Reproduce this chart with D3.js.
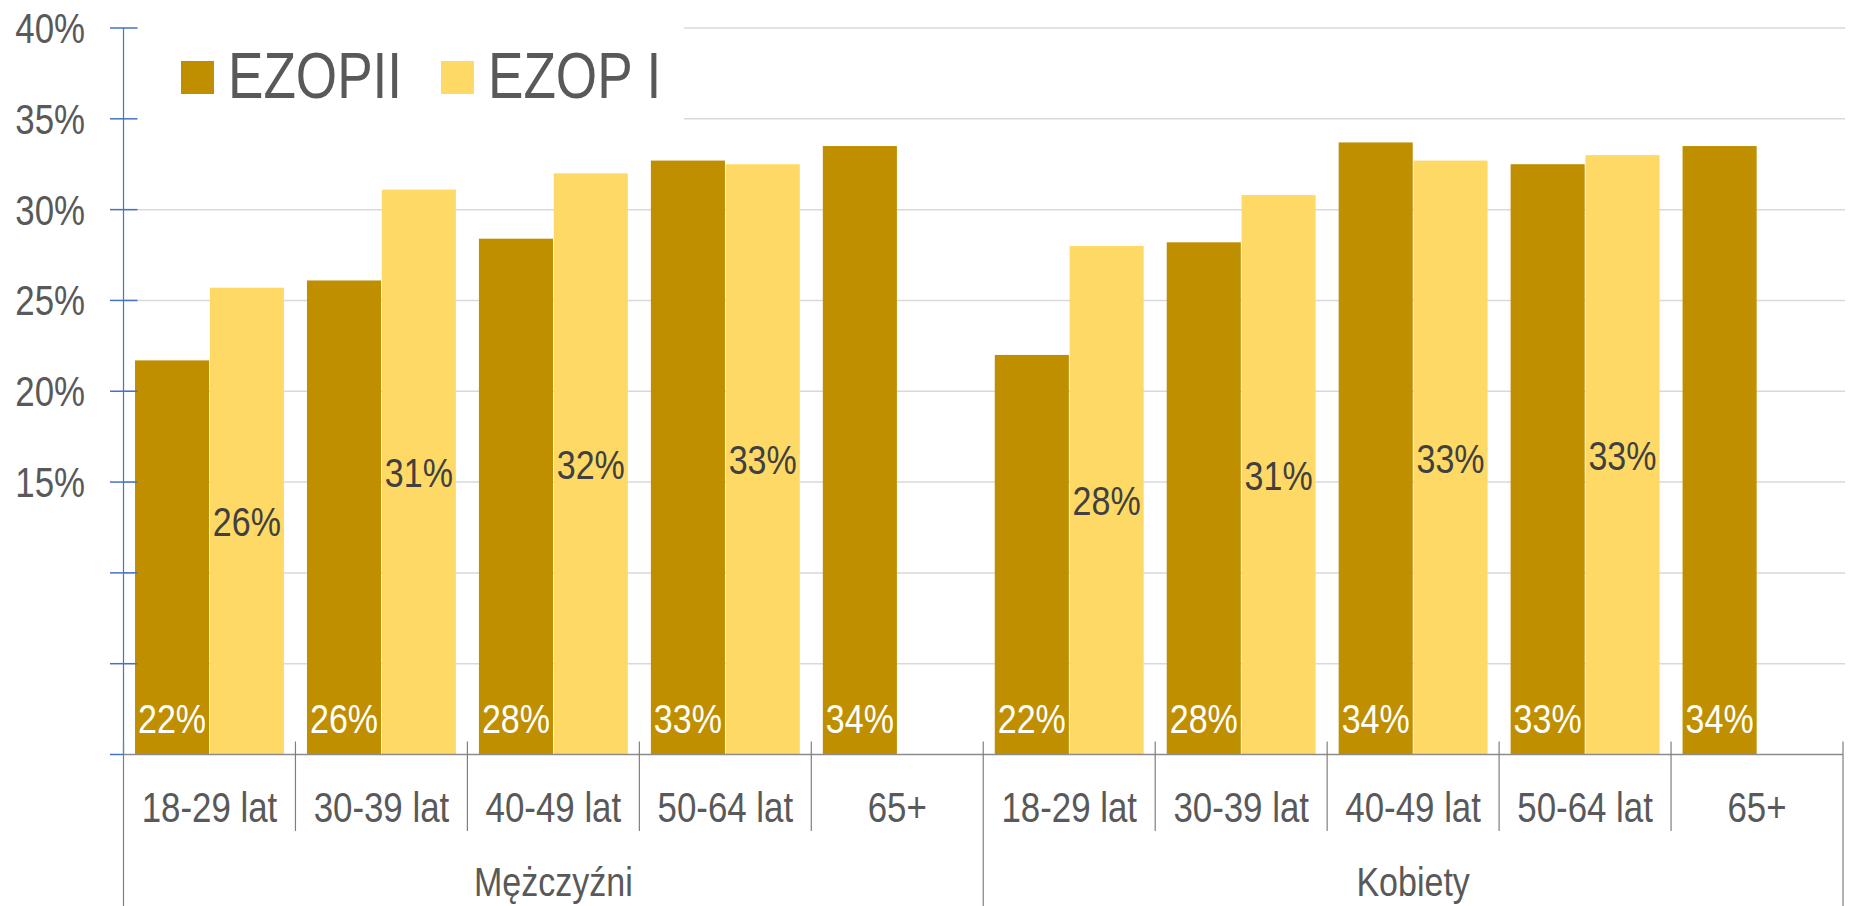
<!DOCTYPE html>
<html>
<head>
<meta charset="utf-8">
<script src="https://cdn.jsdelivr.net/npm/d3@7"></script>
<style>
  html, body { margin: 0; padding: 0; background: #fff; }
  svg text { font-family: "Liberation Sans", Arial, sans-serif; }
</style>
</head>
<body>
<div class="chart"></div>
<script>
// data (percent)
const groups = ["Mężczyźni", "Kobiety"];
const categories = ["18-29 lat", "30-39 lat", "40-49 lat", "50-64 lat", "65+"];
const series = ["EZOPII", "EZOP I"];
const ezopII = [21.7, 26.1, 28.4, 32.7, 33.5, 22.0, 28.2, 33.7, 32.5, 33.5];
const ezopI = [25.7, 31.1, 32.0, 32.5, null, 28.0, 30.8, 32.7, 33.0, null];
const yTicks = [0, 5, 10, 15, 20, 25, 30, 35, 40];
const yTickLabels = ["", "", "", "15%", "20%", "25%", "30%", "35%", "40%"];

const colors = {"EZOPII": "#BF8F00", "EZOP I": "#FFD966"};

const width = 1849, height = 906;
const left = 123.5, right = 1843;
const narrow = 0.83; // no Arial Narrow installed, squeeze Liberation Sans instead

const svg = d3.select(".chart").append("svg")
  .attr("width", width)
  .attr("height", height);

const y = d3.scaleLinear().domain([0, 40]).range([754.5, 28]);

// put a text at (x,y) squeezed horizontally
function place(sel, fx, fy) {
  sel.attr("transform", (d, i) => "translate(" + fx(d, i) + "," + fy(d, i) + ") scale(" + narrow + ",1)");
}

// one band per (group, category) pair
const rows = [];
groups.forEach((g, gi) => categories.forEach((c, ci) => {
  const i = gi * categories.length + ci;
  rows.push({i: i, group: g, cat: c, vals: [ezopII[i], ezopI[i]]});
}));

const x0 = d3.scaleBand()
  .domain(rows.map(d => d.i))
  .range([left, right])
  .paddingInner(0.134)
  .paddingOuter(0.067);

const x1 = d3.scaleBand()
  .domain(series)
  .range([0, x0.bandwidth()])
  .paddingInner(0.01);

// gridlines
svg.selectAll(".grid")
  .data(yTicks.filter(t => t > 0))
  .enter().append("line")
  .attr("class", "grid")
  .attr("x1", left).attr("x2", 1845)
  .attr("y1", d => y(d)).attr("y2", d => y(d))
  .attr("stroke", "#d9d9d9")
  .attr("stroke-width", 1.5);

// legend background hides gridlines
svg.append("rect")
  .attr("x", left + 1).attr("y", 6)
  .attr("width", 684 - left - 1).attr("height", 140)
  .attr("fill", "#fff");

// bars
const grp = svg.selectAll(".cat")
  .data(rows)
  .enter().append("g")
  .attr("class", "cat")
  .attr("transform", d => "translate(" + x0(d.i) + ",0)");

grp.selectAll("rect")
  .data(d => series.map((s, k) => ({s: s, v: d.vals[k]})).filter(e => e.v != null))
  .enter().append("rect")
  .attr("x", d => x1(d.s))
  .attr("width", x1.bandwidth())
  .attr("y", d => y(d.v))
  .attr("height", d => y(0) - y(d.v))
  .attr("fill", d => colors[d.s]);

// value labels
grp.selectAll(".lbl")
  .data(d => series.map((s, k) => ({s: s, v: d.vals[k]})).filter(e => e.v != null))
  .enter().append("text")
  .attr("class", "lbl")
  .call(place,
        d => x1(d.s) + x1.bandwidth() / 2,
        d => d.s === "EZOPII" ? y(0) - 21.5 : (y(d.v) + y(0)) / 2 + 15)
  .attr("text-anchor", "middle")
  .attr("font-size", 41)
  .attr("fill", d => d.s === "EZOPII" ? "#ffffff" : "#404040")
  .text(d => Math.round(d.v) + "%");

// y axis
svg.append("line")
  .attr("x1", left).attr("x2", left)
  .attr("y1", y(40)).attr("y2", y(0))
  .attr("stroke", "#4472C4").attr("stroke-width", 1.2);

svg.selectAll(".ytick")
  .data(yTicks)
  .enter().append("line")
  .attr("class", "ytick")
  .attr("x1", 110).attr("x2", d => d === 0 ? left : 137.5)
  .attr("y1", d => y(d)).attr("y2", d => y(d))
  .attr("stroke", "#4472C4").attr("stroke-width", 1.5);

svg.selectAll(".ylab")
  .data(yTicks)
  .enter().append("text")
  .attr("class", "ylab")
  .call(place, () => 85, d => y(d) + 15)
  .attr("text-anchor", "end")
  .attr("font-size", 42)
  .attr("fill", "#595959")
  .text((d, i) => yTickLabels[i]);

// x baseline
svg.append("line")
  .attr("x1", left).attr("x2", right)
  .attr("y1", y(0)).attr("y2", y(0))
  .attr("stroke", "#8c8c8c").attr("stroke-width", 1.5);

// category separators
const step = x0.step();
const bounds = d3.range(rows.length + 1);
svg.selectAll(".sep")
  .data(bounds)
  .enter().append("line")
  .attr("class", "sep")
  .attr("x1", d => left + d * step).attr("x2", d => left + d * step)
  .attr("y1", y(0) - 13)
  .attr("y2", d => d % categories.length === 0 ? height : 831)
  .attr("stroke", "#7f7f7f").attr("stroke-width", 1.2);

// category labels
svg.selectAll(".xlab")
  .data(rows)
  .enter().append("text")
  .attr("class", "xlab")
  .call(place, d => x0(d.i) + x0.bandwidth() / 2, () => 822)
  .attr("text-anchor", "middle")
  .attr("font-size", 42)
  .attr("fill", "#595959")
  .text(d => d.cat);

// group labels
svg.selectAll(".glab")
  .data(groups)
  .enter().append("text")
  .attr("class", "glab")
  .call(place, (d, gi) => left + (gi + 0.5) * categories.length * step, () => 896)
  .attr("text-anchor", "middle")
  .attr("font-size", 41)
  .attr("fill", "#595959")
  .text(d => d);

// legend
const legend = svg.selectAll(".leg")
  .data(series)
  .enter().append("g")
  .attr("class", "leg")
  .attr("transform", (d, i) => "translate(" + [181, 441][i] + ",0)");

legend.append("rect")
  .attr("x", 0).attr("y", 61)
  .attr("width", 33).attr("height", 33)
  .attr("fill", d => colors[d]);

legend.append("text")
  .call(place, () => 47, () => 98)
  .attr("font-size", 64)
  .attr("fill", "#595959")
  .text(d => d);
</script>
</body>
</html>
